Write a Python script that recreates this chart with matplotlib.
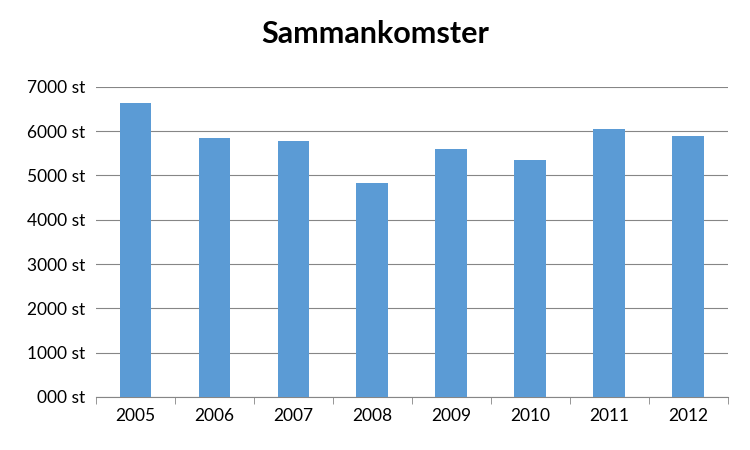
import matplotlib
matplotlib.use("Agg")
import matplotlib.pyplot as plt
from matplotlib.ticker import FuncFormatter, FixedLocator, NullFormatter

years = ["2005", "2006", "2007", "2008", "2009", "2010", "2011", "2012"]
values = [6630, 5850, 5780, 4830, 5600, 5350, 6050, 5890]

plt.rcParams['font.family'] = ['Lato', 'DejaVu Sans']
fig = plt.figure(figsize=(7.5, 4.5), dpi=100)
ax = fig.add_axes([0.128, 0.118, 0.842, 0.689])
x = list(range(len(years)))
ax.bar(x, values, width=0.4, color="#5B9BD5", zorder=3)
ax.set_xlim(-0.5, len(years) - 0.5)
ax.set_ylim(0, 7000)
ax.set_yticks(range(0, 7001, 1000))
ax.yaxis.set_major_formatter(FuncFormatter(lambda v, p: "000 st" if v == 0 else f"{int(v)} st"))
ax.set_xticks(x)
ax.set_xticklabels(years)
ax.tick_params(axis='x', length=0, labelsize=12.5, pad=8)
ax.xaxis.set_minor_locator(FixedLocator([i - 0.5 for i in range(len(years) + 1)]))
ax.xaxis.set_minor_formatter(NullFormatter())
ax.tick_params(axis='x', which='minor', length=5, color="#868686")
ax.tick_params(axis='y', length=0, labelsize=12.5, pad=8)
ax.grid(axis='y', color="#868686", linewidth=0.8, zorder=0)
for s in ["top", "right", "left"]:
    ax.spines[s].set_visible(False)
ax.spines["bottom"].set_color("#868686")
fig.suptitle("Sammankomster", fontsize=22, fontweight="bold", y=0.955)
fig.savefig("out.png", dpi=100)
